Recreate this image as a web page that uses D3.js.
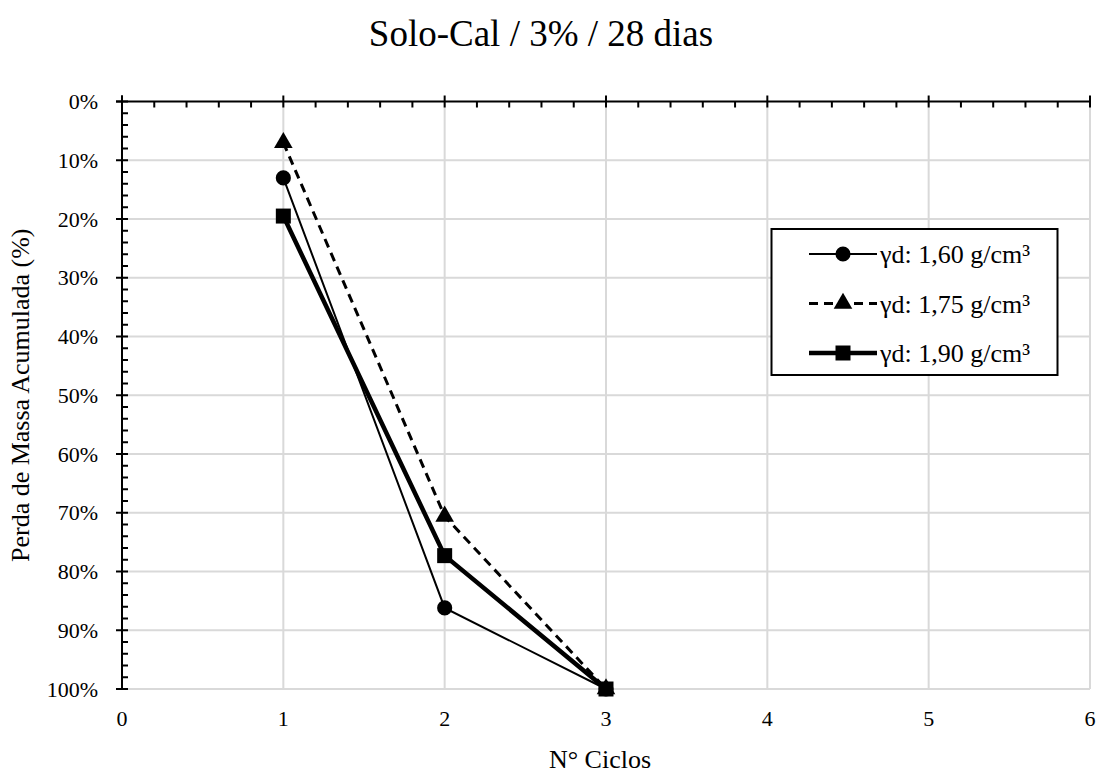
<!DOCTYPE html>
<html>
<head>
<meta charset="utf-8">
<script src="https://cdn.jsdelivr.net/npm/d3@7"></script>
<style>
  body { margin: 0; background: #fff; }
</style>
</head>
<body>
<div id="chart"></div>
<script>
const TITLE = 'Solo-Cal / 3% / 28 dias';
const X_LABEL = 'N° Ciclos';
const Y_LABEL = 'Perda de Massa Acumulada (%)';
const CYCLES = [1, 2, 3];
const SERIES_NAMES = ['γd: 1,60 g/cm³', 'γd: 1,75 g/cm³', 'γd: 1,90 g/cm³'];
const LOSS_160 = [0.13, 0.862, 1.00];
const LOSS_175 = [0.07, 0.706, 1.00];
const LOSS_190 = [0.195, 0.773, 1.00];
const X_TICKS = [0, 1, 2, 3, 4, 5, 6];
const Y_TICKS = [0, 0.1, 0.2, 0.3, 0.4, 0.5, 0.6, 0.7, 0.8, 0.9, 1.0];

const FONT = "'Liberation Serif', 'Times New Roman', Times, serif";
const W = 1101, H = 776;
const M = { t: 101.5, r: 11, b: 87, l: 122 };
const svg = d3.select('#chart').append('svg').attr('width', W).attr('height', H)
  .attr('font-family', FONT);

const x = d3.scaleLinear().domain([0, 6]).range([M.l, W - M.r]);
const y = d3.scaleLinear().domain([0, 1]).range([M.t, H - M.b]);

function txt(sel) { return sel.append('text').attr('font-family', FONT).attr('fill', '#000'); }

// title
txt(svg).attr('x', 541).attr('y', 46).attr('text-anchor', 'middle')
  .attr('font-size', 37).text(TITLE);

// gridlines
const grid = svg.append('g').attr('stroke', '#d9d9d9').attr('stroke-width', 2);
grid.selectAll('line.v').data(X_TICKS.slice(1)).enter().append('line')
  .attr('x1', d => x(d)).attr('x2', d => x(d)).attr('y1', y(0)).attr('y2', y(1));
grid.selectAll('line.h').data(Y_TICKS.slice(1)).enter().append('line')
  .attr('x1', x(0)).attr('x2', x(6)).attr('y1', d => y(d)).attr('y2', d => y(d));

// top axis (value 0%) with ticks
const topAx = svg.append('g').attr('stroke', '#000');
topAx.append('line').attr('x1', x(0) - 6).attr('x2', x(6)).attr('y1', y(0)).attr('y2', y(0)).attr('stroke-width', 2);
topAx.selectAll('line.maj').data(X_TICKS).enter().append('line')
  .attr('x1', d => x(d)).attr('x2', d => x(d)).attr('y1', y(0) - 6).attr('y2', y(0) + 6).attr('stroke-width', 2);
topAx.selectAll('line.min').data(d3.range(0, 6, 0.2).filter(v => Math.abs(v - Math.round(v)) > 0.01)).enter().append('line')
  .attr('x1', d => x(d)).attr('x2', d => x(d)).attr('y1', y(0)).attr('y2', y(0) + 6).attr('stroke-width', 2);

// left axis
const leftAx = svg.append('g').attr('stroke', '#000');
leftAx.append('line').attr('x1', x(0)).attr('x2', x(0)).attr('y1', y(0) - 6).attr('y2', y(1)).attr('stroke-width', 2);
leftAx.selectAll('line.maj').data(Y_TICKS).enter().append('line')
  .attr('x1', x(0) - 6).attr('x2', x(0) + 6).attr('y1', d => y(d)).attr('y2', d => y(d)).attr('stroke-width', 2);
leftAx.selectAll('line.min').data(d3.range(0, 1, 0.02).filter(v => Math.abs(v * 10 - Math.round(v * 10)) > 0.01)).enter().append('line')
  .attr('x1', x(0)).attr('x2', x(0) + 6).attr('y1', d => y(d)).attr('y2', d => y(d)).attr('stroke-width', 2);

// tick labels
const yLab = svg.append('g');
Y_TICKS.forEach(t => txt(yLab).attr('x', x(0) - 24).attr('y', y(t)).attr('dy', '0.35em')
  .attr('text-anchor', 'end').attr('font-size', 22).text(d3.format('.0%')(t)));
const xLab = svg.append('g');
X_TICKS.forEach(t => txt(xLab).attr('x', x(t)).attr('y', y(1) + 37)
  .attr('text-anchor', 'middle').attr('font-size', 22).text(t));

// axis titles
txt(svg).attr('x', 600).attr('y', 768).attr('text-anchor', 'middle')
  .attr('font-size', 26).text(X_LABEL);
txt(svg).attr('transform', `translate(29,${(y(0) + y(1)) / 2}) rotate(-90)`)
  .attr('text-anchor', 'middle').attr('font-size', 26).text(Y_LABEL);

// series
const seriesDefs = [
  { name: SERIES_NAMES[0], values: LOSS_160, width: 2, dash: null, shape: 'circle' },
  { name: SERIES_NAMES[1], values: LOSS_175, width: 3, dash: '9,6', shape: 'triangle' },
  { name: SERIES_NAMES[2], values: LOSS_190, width: 4.5, dash: null, shape: 'square' }
];
const symbolFor = {
  circle: d3.symbol().type(d3.symbolCircle).size(180),
  triangle: d3.symbol().type(d3.symbolTriangle).size(150),
  square: d3.symbol().type(d3.symbolSquare).size(225)
};
const line = d3.line().x(d => x(d[0])).y(d => y(d[1]));

const gSeries = svg.append('g');
seriesDefs.forEach(s => {
  const pts = CYCLES.map((c, i) => [c, s.values[i]]);
  gSeries.append('path').attr('d', line(pts)).attr('fill', 'none').attr('stroke', '#000')
    .attr('stroke-width', s.width).attr('stroke-dasharray', s.dash);
  gSeries.selectAll(null).data(pts).enter().append('path')
    .attr('transform', d => `translate(${x(d[0])},${y(d[1])})`)
    .attr('d', symbolFor[s.shape]).attr('fill', '#000');
});

// legend
const lg = svg.append('g');
lg.append('rect').attr('x', 771.5).attr('y', 229).attr('width', 286).attr('height', 146)
  .attr('fill', '#fff').attr('stroke', '#000').attr('stroke-width', 2);
seriesDefs.forEach((s, i) => {
  const cy = 254 + i * 49.5;
  lg.append('line').attr('x1', 809).attr('x2', 877).attr('y1', cy).attr('y2', cy)
    .attr('stroke', '#000').attr('stroke-width', s.width).attr('stroke-dasharray', s.dash);
  lg.append('path').attr('transform', `translate(843,${cy})`).attr('d', symbolFor[s.shape]).attr('fill', '#000');
  txt(lg).attr('x', 880).attr('y', cy).attr('dy', '0.35em').attr('font-size', 26).text(s.name);
});
</script>
</body>
</html>
